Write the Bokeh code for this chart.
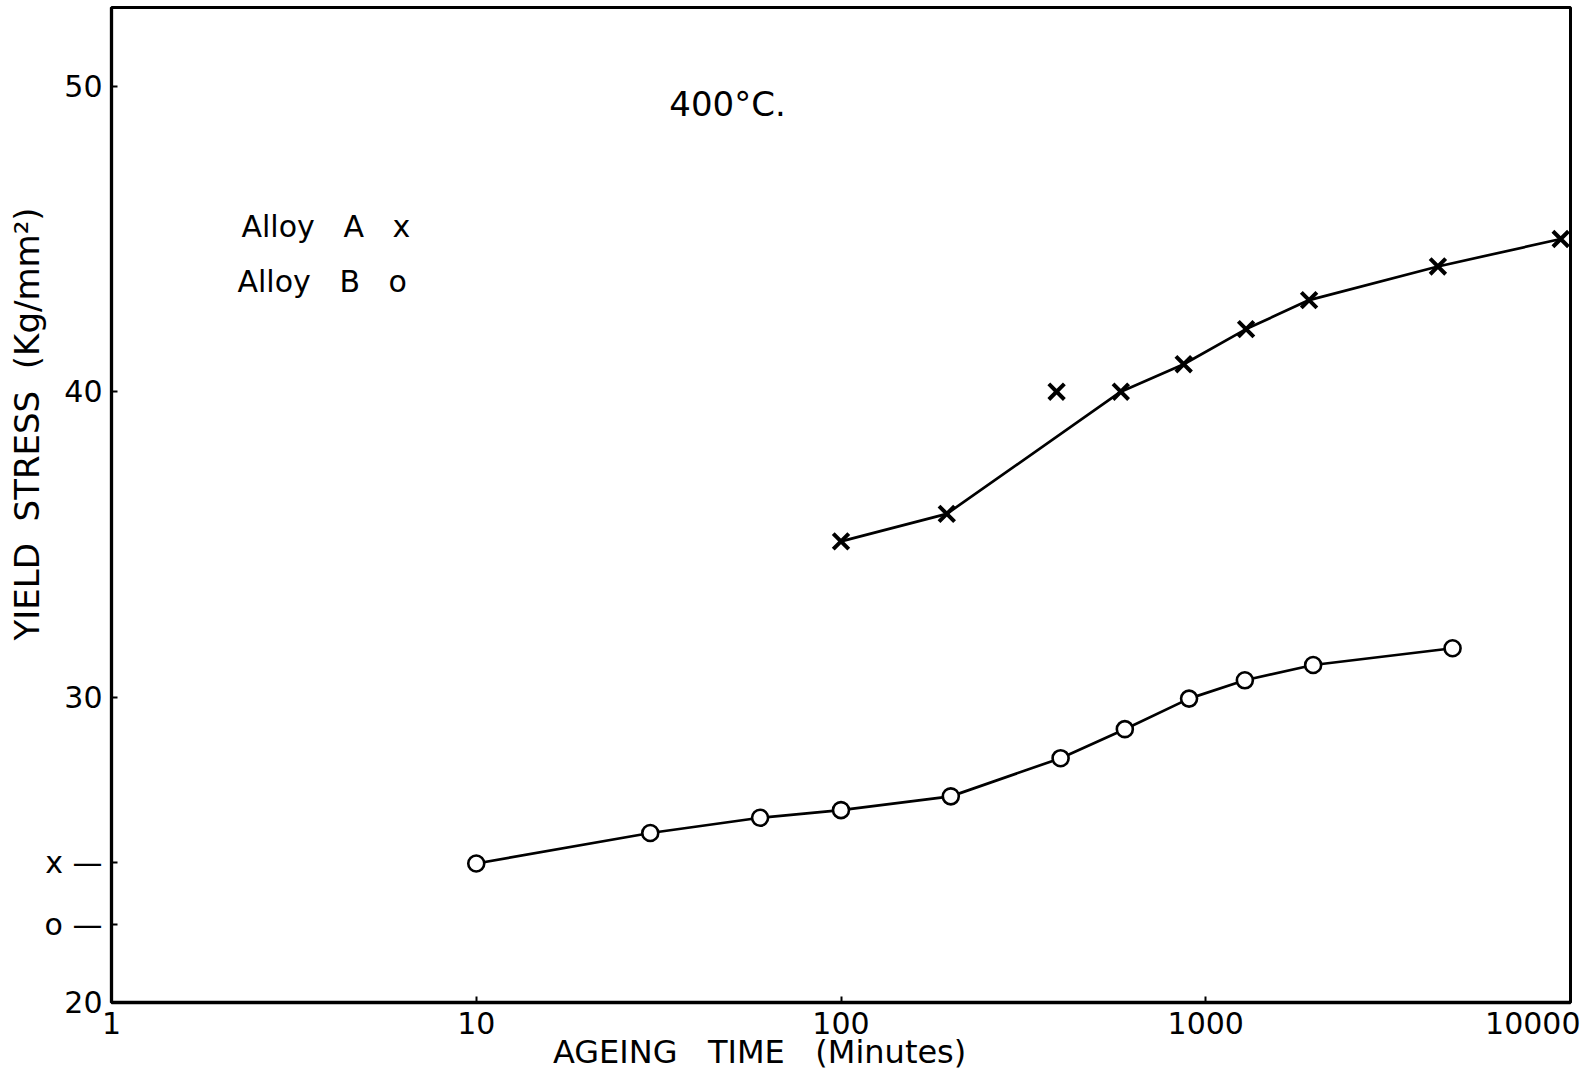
import math
from bokeh.plotting import figure
from bokeh.models import Range1d, FixedTicker, PrintfTickFormatter, Label
from bokeh.embed import file_html
from bokeh.resources import INLINE

# ---------------- data ----------------
a_time = [100, 195, 390, 585, 870, 1290, 1920, 4330, 9400]          # minutes, Alloy A
a_stress = [35.1, 36.0, 40.0, 40.0, 40.9, 42.05, 43.0, 44.1, 45.0]  # Kg/mm2
a_on_curve = [True, True, False, True, True, True, True, True, True]

b_time = [10, 30, 60, 100, 200, 400, 600, 900, 1280, 1970, 4750]    # minutes, Alloy B
b_stress = [24.55, 25.55, 26.05, 26.3, 26.75, 28.0, 28.95, 29.95, 30.55, 31.05, 31.6]

a_initial = 24.6   # as-quenched value, Alloy A (x on the left margin)
b_initial = 22.55  # as-quenched value, Alloy B (o on the left margin)

x_ticks = [1, 10, 100, 1000, 10000]
y_ticks = [20, 30, 40, 50]
NB = "\u00a0"
title_text = "400°C."
legend_a = "Alloy" + NB * 3 + "A" + NB * 3 + "x"
legend_b = "Alloy" + NB * 3 + "B" + NB * 3 + "o"
x_title = "AGEING" + NB * 3 + "TIME" + NB * 3 + "(Minutes)"
y_title = "YIELD" + NB * 2 + "STRESS" + NB * 2 + "(Kg/mm²)"
a_initial_label = "x" + NB + "—"
b_initial_label = "o" + NB + "—"

# ---------------- layout ----------------
W, H = 1580, 1073
FL, FR, FT, FB = 111, 1570, 7, 1002
X_MIN, X_MAX = 1.0, 10000.0
Y_MIN, Y_MAX = 20.0, 52.58
FONT = "DejaVu Sans"


def dx(px):
    lo, hi = math.log10(X_MIN), math.log10(X_MAX)
    return 10 ** (lo + (px - FL) / (FR - FL) * (hi - lo))


def dy(py):
    return Y_MIN + (FB - py) / (FB - FT) * (Y_MAX - Y_MIN)


p = figure(width=W, height=H, x_axis_type="log",
           x_range=Range1d(X_MIN, X_MAX), y_range=Range1d(Y_MIN, Y_MAX),
           output_backend="svg", toolbar_location=None, title=None,
           min_border_left=FL, min_border_right=W - FR,
           min_border_top=FT, min_border_bottom=H - FB)

p.background_fill_color = "white"
p.border_fill_color = "white"
p.grid.visible = False
p.outline_line_color = "black"
p.outline_line_width = 3
p.outline_line_alpha = 1.0

xa = p.xaxis[0]
ya = p.yaxis[0]
xa.ticker = FixedTicker(ticks=x_ticks, minor_ticks=[])
xa.formatter = PrintfTickFormatter(format="%d")

ya_ticks = sorted(y_ticks + [a_initial, b_initial])
ya.ticker = FixedTicker(ticks=ya_ticks, minor_ticks=[])
ya.major_label_overrides = {a_initial: a_initial_label, str(a_initial): a_initial_label,
                            b_initial: b_initial_label, str(b_initial): b_initial_label}

for ax in (xa, ya):
    ax.axis_line_color = "black"
    ax.axis_line_width = 3.3
    ax.major_tick_in = 6
    ax.major_tick_out = 0
    ax.major_tick_line_width = 2
    ax.major_tick_line_color = "black"
    ax.minor_tick_line_color = None
    ax.major_label_text_font = FONT
    ax.major_label_text_font_size = "30px"
    ax.major_label_text_color = "black"
    ax.axis_label_text_font = FONT
    ax.axis_label_text_font_style = "normal"
    ax.axis_label_text_color = "black"

ya.major_label_standoff = 9
xa.major_label_standoff = 9

# axis titles: padded with no-break spaces so the visible text sits where the reference has it
xa.axis_label = x_title + NB * 16
xa.axis_label_text_font_size = "32px"
xa.axis_label_standoff = -4
ya.axis_label = NB * 15 + y_title
ya.axis_label_text_font_size = "34px"
ya.axis_label_standoff = -5

# ---------------- series ----------------
a_line_x = [t for t, k in zip(a_time, a_on_curve) if k]
a_line_y = [s for s, k in zip(a_stress, a_on_curve) if k]
p.line(a_line_x, a_line_y, line_color="black", line_width=2.7)
p.scatter(a_time, a_stress, marker="x", size=22, line_width=4, line_color="black")

p.line(b_time, b_stress, line_color="black", line_width=2.7)
p.scatter(b_time, b_stress, marker="circle", size=16, line_width=2.6,
          line_color="black", fill_color="white")

# ---------------- texts inside the frame ----------------
def lab(text, x, y, size="30px", align="left", baseline="alphabetic"):
    p.add_layout(Label(text=text, x=x, y=y, text_font=FONT, text_font_size=size,
                       text_align=align, text_baseline=baseline, text_color="black"))


lab(title_text, dx(727), dy(103), size="34px", align="center")
lab(legend_a, dx(241), dy(226))
lab(legend_b, dx(237), dy(281))

open("out.html", "w").write(file_html(p, INLINE))
